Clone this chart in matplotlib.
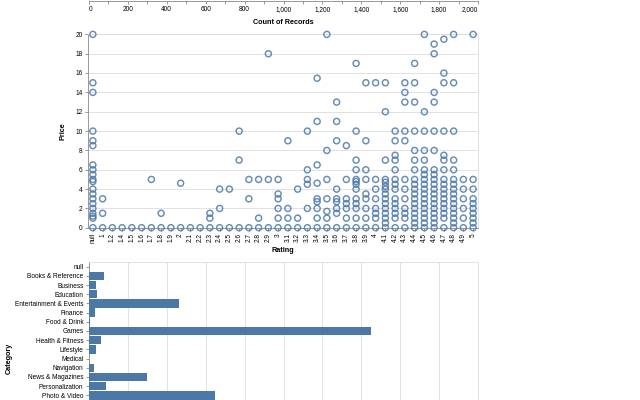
import numpy as np
import matplotlib
matplotlib.use('Agg')
import matplotlib.pyplot as plt

# ---- data ----
count_ticks = list(range(0, 2001, 100))

rating_labels = ['null', '1', '1.2', '1.4', '1.5', '1.6', '1.7', '1.8', '1.9', '2',
                 '2.1', '2.2', '2.3', '2.4', '2.5', '2.6', '2.7', '2.8', '2.9', '3',
                 '3.1', '3.2', '3.3', '3.4', '3.5', '3.6', '3.7', '3.8', '3.9', '4',
                 '4.1', '4.2', '4.3', '4.4', '4.5', '4.6', '4.7', '4.8', '4.9', '5']

prices_by_rating = [
    [19.99, 14.99, 13.99, 9.99, 8.99, 8.49, 6.49, 5.99, 5.49, 4.99, 4.77, 3.99, 3.49, 2.99, 2.49, 1.99, 1.49, 1.2, 0.99, 0],
    [2.99, 1.49, 0],
    [0],
    [0],
    [0],
    [0],
    [4.99, 0],
    [1.49, 0],
    [0],
    [4.6, 0],
    [0],
    [0],
    [1.49, 0.99, 0],
    [3.99, 1.99, 0],
    [3.99, 0],
    [9.99, 6.99, 0],
    [4.99, 2.99, 0],
    [4.99, 0.99, 0],
    [17.99, 4.99, 0],
    [4.99, 3.49, 2.99, 1.99, 0.99, 0],
    [8.99, 1.99, 0.99, 0],
    [3.99, 0.99, 0],
    [9.99, 5.99, 4.99, 4.49, 1.99, 0],
    [15.46, 10.99, 6.49, 4.6, 2.99, 2.69, 1.99, 0.99, 0],
    [19.99, 7.99, 4.99, 2.99, 1.69, 0.99, 0],
    [12.99, 10.99, 8.99, 3.99, 2.99, 2.69, 1.99, 1.49, 0],
    [8.49, 4.99, 2.99, 2.49, 1.99, 0.99, 0],
    [16.99, 9.99, 6.99, 5.99, 4.99, 4.77, 4.49, 3.99, 2.99, 2.49, 1.99, 0.99, 0],
    [14.99, 8.99, 5.99, 4.99, 3.49, 2.99, 1.99, 0.99, 0],
    [14.99, 4.99, 3.99, 2.99, 1.99, 1.49, 0.99, 0],
    [14.99, 11.99, 6.99, 4.99, 4.7, 4.29, 3.99, 3.49, 2.99, 2.49, 1.99, 1.49, 0.99, 0.49, 0],
    [9.99, 8.99, 7.49, 6.99, 5.99, 4.99, 4.49, 3.99, 2.99, 2.49, 1.99, 1.49, 0.99, 0],
    [14.99, 13.99, 12.99, 9.99, 8.99, 4.99, 3.99, 2.99, 1.99, 1.49, 0.99, 0],
    [16.99, 14.99, 12.99, 9.99, 7.99, 6.99, 5.99, 4.99, 4.49, 3.99, 3.49, 2.99, 2.49, 1.99, 1.49, 0.99, 0.49, 0],
    [19.99, 11.99, 9.99, 7.99, 6.99, 5.99, 5.49, 4.99, 4.49, 3.99, 3.49, 2.99, 2.49, 1.99, 1.49, 0.99, 0.49, 0],
    [18.99, 17.99, 13.99, 12.99, 9.99, 7.99, 5.99, 5.49, 4.99, 4.49, 3.99, 3.49, 2.99, 2.49, 1.99, 1.49, 0.99, 0.49, 0],
    [19.49, 15.99, 14.99, 9.99, 7.49, 6.99, 5.99, 4.99, 4.49, 3.99, 3.49, 2.99, 2.49, 1.99, 1.49, 0.99, 0],
    [19.99, 14.99, 9.99, 6.99, 5.99, 4.99, 4.49, 3.99, 3.49, 2.99, 2.49, 1.99, 1.49, 0.99, 0.49, 0],
    [4.99, 3.99, 2.99, 1.99, 0.99, 0],
    [19.99, 4.99, 3.99, 2.99, 2.49, 1.99, 1.49, 0.99, 0.49, 0],
]

categories = ['null', 'Books & Reference', 'Business', 'Education', 'Entertainment & Events',
              'Finance', 'Food & Drink', 'Games', 'Health & Fitness', 'Lifestyle',
              'Medical', 'Navigation', 'News & Magazines', 'Personalization', 'Photo & Video']
category_counts = [0, 77, 38, 40, 463, 33, 7, 1450, 60, 34, 0, 26, 297, 89, 648]

# ---- style ----
plt.rcParams['font.family'] = ['Liberation Sans', 'DejaVu Sans']
W, H = 640, 400
LABEL = 4.7
TITLE = 5.2
AXC = '#888888'
GRID = '#dddddd'
BLUE = '#4c78a8'


def px_rect(left, top, right, bottom):
    # pixel box (from top-left) -> figure fraction
    return [left / W, 1 - bottom / H, (right - left) / W, (bottom - top) / H]


def base_style(ax):
    for s in ax.spines.values():
        s.set_color(GRID)
        s.set_linewidth(0.6)
    ax.tick_params(colors=AXC, labelcolor='black', labelsize=LABEL,
                   length=2.5, width=0.6, pad=1.5)


fig = plt.figure(figsize=(6.4, 4), dpi=100)

# ---- top chart (only its axis is inside the picture) ----
ax0 = fig.add_axes(px_rect(89, -80, 478, 0.5))
base_style(ax0)
ax0.set_xlim(0, 2000)
ax0.set_xticks(count_ticks)
ax0.set_xticklabels([f'{v:,}' if v % 200 == 0 else '' for v in count_ticks])
ax0.set_yticks([])
ax0.spines['bottom'].set_color(AXC)
tl = ax0.get_xticklabels()
tl[0].set_ha('left')
tl[-1].set_ha('right')
ax0.set_xlabel('Count of Records', fontsize=TITLE, fontweight='bold', labelpad=4)

# ---- scatter Price vs Rating ----
ax1 = fig.add_axes(px_rect(88, 34.3, 478, 227.7))
base_style(ax1)
for i, prices in enumerate(prices_by_rating):
    ax1.scatter([i] * len(prices), prices, s=19, facecolors='none',
                edgecolors=BLUE, linewidths=1.05, alpha=0.85, clip_on=False, zorder=3)
ax1.set_xlim(-0.5, len(rating_labels) - 0.5)
ax1.set_ylim(0, 20)
ax1.set_yticks(range(0, 21, 2))
ax1.set_xticks(range(len(rating_labels)))
ax1.set_xticklabels(rating_labels, rotation=90)
ax1.yaxis.grid(True, color=GRID, linewidth=0.6)
ax1.set_axisbelow(True)
ax1.spines['left'].set_color(AXC)
ax1.spines['bottom'].set_color(AXC)
ax1.set_xlabel('Rating', fontsize=TITLE, fontweight='bold', labelpad=3)
ax1.set_ylabel('Price', fontsize=TITLE, fontweight='bold')
ax1.yaxis.set_label_coords(-21.5 / 390, 0.5)

# ---- bottom bar chart (runs past the bottom edge) ----
step = 9.2
ax2 = fig.add_axes(px_rect(89, 262, 478, 262 + 21 * step))
base_style(ax2)
ax2.barh(range(len(categories)), category_counts, height=0.9, color=BLUE, zorder=3)
ax2.set_ylim(20.5, -0.5)
ax2.set_xlim(0, 2000)
ax2.set_xticks(range(0, 2001, 200))
ax2.tick_params(axis='x', labelbottom=False, length=0)
ax2.set_yticks(range(len(categories)))
ax2.set_yticklabels(categories)
ax2.xaxis.grid(True, color=GRID, linewidth=0.6)
ax2.set_axisbelow(True)
ax2.spines['left'].set_color(AXC)
ax2.set_ylabel('Category', fontsize=TITLE, fontweight='bold')
ax2.yaxis.set_label_coords(-76.5 / 389, 0.5)

fig.savefig('out.png', dpi=100)
